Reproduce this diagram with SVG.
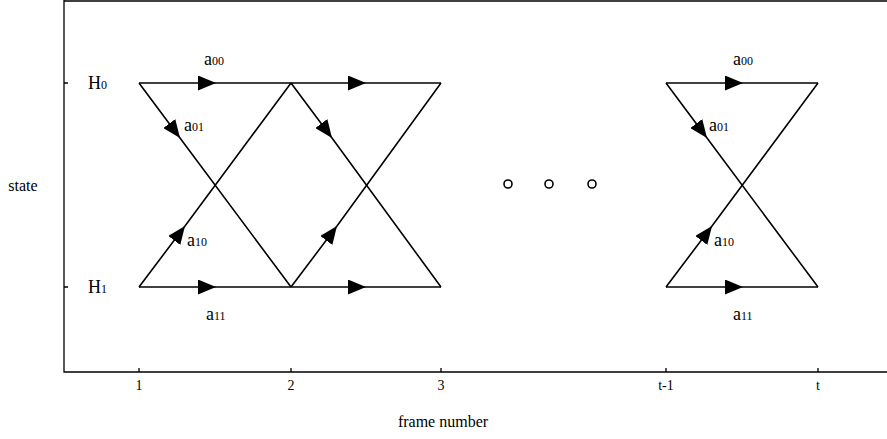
<svg xmlns="http://www.w3.org/2000/svg" width="887" height="439" viewBox="0 0 887 439">
<style>
.ax{stroke:#000;stroke-width:1.3;fill:none}
.ln{stroke:#000;stroke-width:1.6;fill:none;marker-mid:url(#ah)}
.t{font-family:"Liberation Serif","Times New Roman",serif;fill:#000}
.lbl{font-size:18px}
.sub{font-size:12px}
.tick{font-size:14px}
</style>
<defs>
<marker id="ah" viewBox="0 0 18 15" refX="18" refY="7.5" markerWidth="18" markerHeight="15" markerUnits="userSpaceOnUse" orient="auto">
<path d="M0,0 L18,7.5 L0,15 Z" fill="#000"/>
</marker>
</defs>
<rect width="887" height="439" fill="#fff"/>
<g id="axes">
<path class="ax" d="M64,1 H887 M64,0 V372 H887"/>
<path class="ax" d="M64,83 h4 M64,287 h4 M139,372 v-4 M291,372 v-4 M441,372 v-4 M666,372 v-4 M818,372 v-4"/>
<text class="t tick" x="139" y="390" text-anchor="middle">1</text>
<text class="t tick" x="291" y="390" text-anchor="middle">2</text>
<text class="t tick" x="441" y="390" text-anchor="middle">3</text>
<text class="t tick" x="666" y="390" text-anchor="middle">t-1</text>
<text class="t tick" x="818" y="390" text-anchor="middle">t</text>
<text class="t" font-size="16" x="443" y="427" text-anchor="middle">frame number</text>
<text class="t" font-size="16" x="23" y="191" text-anchor="middle">state</text>
</g>
<g id="H0"><text class="t lbl" x="88" y="89">H<tspan class="sub">0</tspan></text></g>
<g id="H1"><text class="t lbl" x="88" y="293">H<tspan class="sub">1</tspan></text></g>
<g id="dots" fill="none" stroke="#000" stroke-width="1.6">
<circle cx="508" cy="184" r="4"/>
<circle cx="549" cy="184" r="4"/>
<circle cx="592" cy="184" r="4"/>
</g>
<g id="connectors">
<path class="ln" d="M139,83 L216,83 L291,83"/>
<path class="ln" d="M291,83 L366,83 L441,83"/>
<path class="ln" d="M139,287 L216,287 L291,287"/>
<path class="ln" d="M291,287 L366,287 L441,287"/>
<path class="ln" d="M139,83 L180,138 L291,287"/>
<path class="ln" d="M291,83 L332,138 L441,287"/>
<path class="ln" d="M139,287 L185,226 L291,83"/>
<path class="ln" d="M291,287 L337,226 L441,83"/>
<path class="ln" d="M666,83 L743,83 L818,83"/>
<path class="ln" d="M666,287 L743,287 L818,287"/>
<path class="ln" d="M666,83 L707,138 L818,287"/>
<path class="ln" d="M666,287 L712,226 L818,83"/>
</g>
<g id="labels">
<text class="t lbl" x="204" y="65">a<tspan class="sub">00</tspan></text>
<text class="t lbl" x="184" y="131">a<tspan class="sub">01</tspan></text>
<text class="t lbl" x="187" y="246">a<tspan class="sub">10</tspan></text>
<text class="t lbl" x="206" y="320">a<tspan class="sub">11</tspan></text>
<text class="t lbl" x="733" y="65">a<tspan class="sub">00</tspan></text>
<text class="t lbl" x="709" y="131">a<tspan class="sub">01</tspan></text>
<text class="t lbl" x="714" y="246">a<tspan class="sub">10</tspan></text>
<text class="t lbl" x="733" y="320">a<tspan class="sub">11</tspan></text>
</g>
</svg>
